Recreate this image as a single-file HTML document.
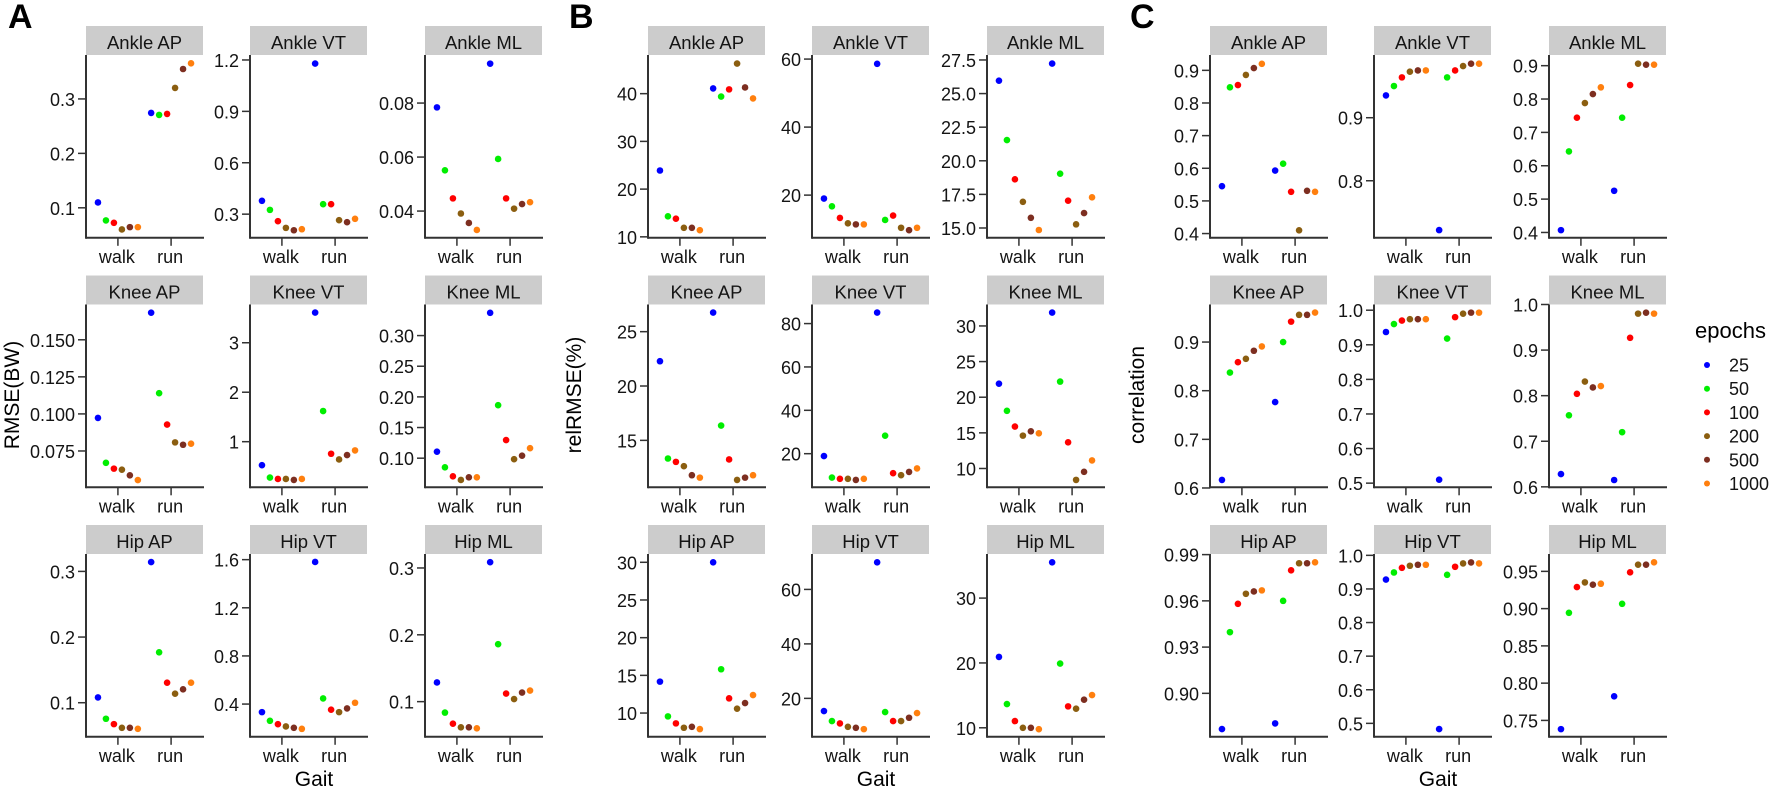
<!DOCTYPE html>
<html lang="en">
<head>
<meta charset="utf-8">
<title>RMSE, relRMSE and correlation by gait and epochs</title>
<style>
  html, body { margin: 0; padding: 0; background: #fff; }
  svg { display: block; font-family: "Liberation Sans", Arial, sans-serif; }
  .tick-text { font-size: 18px; fill: #141414; }
  .strip-text { font-size: 18.5px; fill: #141414; text-anchor: middle; }
  .title-text { font-size: 21px; fill: #000; text-anchor: middle; }
  .tag-text { font-size: 34px; font-weight: bold; fill: #000; }
</style>
</head>
<body>
<svg id="chart" xmlns="http://www.w3.org/2000/svg" width="1772" height="790" viewBox="0 0 1772 790">
  <rect x="0" y="0" width="1772" height="790" fill="#ffffff"/>
  <text class="tag-text" x="8" y="28">A</text>
  <text class="tag-text" x="569" y="28">B</text>
  <text class="tag-text" x="1130" y="28">C</text>
  <text class="title-text" transform="translate(19,395) rotate(-90)">RMSE(BW)</text>
  <text class="title-text" transform="translate(581,395) rotate(-90)">relRMSE(%)</text>
  <text class="title-text" transform="translate(1144,395) rotate(-90)">correlation</text>
  <text class="title-text" x="314" y="786">Gait</text>
  <text class="title-text" x="876" y="786">Gait</text>
  <text class="title-text" x="1438" y="786">Gait</text>
  <text x="1695" y="338" font-size="22" fill="#000">epochs</text>
  <g id="panels"></g>
  <g id="legend"></g>
</svg>
<script>
// Categories and series
const gaitCategories = ["walk", "run"];
const epochLevels = ["25", "50", "100", "200", "500", "1000"];
const epochColors = ["#0000ff", "#00ee00", "#ff0000", "#8b5e10", "#7d2e20", "#ff7f0e"];

// Figure A: RMSE(BW)
const aAnkleApWalk = [0.1098, 0.0768, 0.0725, 0.0602, 0.0645, 0.0645];
const aAnkleApRun = [0.2743, 0.2706, 0.2725, 0.3202, 0.355, 0.3654];
const aAnkleApDomain = [0.0449, 0.3807];
const aAnkleApTicks = ["0.1", "0.2", "0.3"];

const aAnkleVtWalk = [0.378, 0.325, 0.259, 0.220, 0.206, 0.212];
const aAnkleVtRun = [1.179, 0.358, 0.358, 0.265, 0.253, 0.273];
const aAnkleVtDomain = [0.162, 1.229];
const aAnkleVtTicks = ["0.3", "0.6", "0.9", "1.2"];

const aAnkleMlWalk = [0.0784, 0.0551, 0.0447, 0.0391, 0.0356, 0.0330];
const aAnkleMlRun = [0.0946, 0.0593, 0.0447, 0.0409, 0.0426, 0.0433];
const aAnkleMlDomain = [0.0301, 0.0978];
const aAnkleMlTicks = ["0.04", "0.06", "0.08"];

const aKneeApWalk = [0.0973, 0.0670, 0.0631, 0.0624, 0.0586, 0.0554];
const aKneeApRun = [0.1683, 0.1140, 0.0928, 0.0808, 0.0792, 0.0799];
const aKneeApDomain = [0.0505, 0.1738];
const aKneeApTicks = ["0.075", "0.100", "0.125", "0.150"];

const aKneeVtWalk = [0.525, 0.275, 0.247, 0.247, 0.227, 0.247];
const aKneeVtRun = [3.61, 1.62, 0.756, 0.641, 0.729, 0.824];
const aKneeVtDomain = [0.078, 3.773];
const aKneeVtTicks = ["1", "2", "3"];

const aKneeMlWalk = [0.1106, 0.0851, 0.0704, 0.0645, 0.0688, 0.0688];
const aKneeMlRun = [0.3371, 0.1864, 0.1296, 0.0984, 0.1041, 0.1163];
const aKneeMlDomain = [0.0525, 0.3507];
const aKneeMlTicks = ["0.10", "0.15", "0.20", "0.25", "0.30"];

const aHipApWalk = [0.1081, 0.0756, 0.0674, 0.0618, 0.0618, 0.0603];
const aHipApRun = [0.3142, 0.1768, 0.1305, 0.1137, 0.1204, 0.1305];
const aHipApDomain = [0.0481, 0.3265];
const aHipApTicks = ["0.1", "0.2", "0.3"];

const aHipVtWalk = [0.333, 0.261, 0.233, 0.214, 0.203, 0.194];
const aHipVtRun = [1.581, 0.447, 0.353, 0.333, 0.364, 0.411];
const aHipVtDomain = [0.128, 1.647];
const aHipVtTicks = ["0.4", "0.8", "1.2", "1.6"];

const aHipMlWalk = [0.1287, 0.0836, 0.067, 0.0616, 0.0616, 0.0601];
const aHipMlRun = [0.3087, 0.186, 0.1121, 0.1039, 0.1136, 0.1166];
const aHipMlDomain = [0.0474, 0.3209];
const aHipMlTicks = ["0.1", "0.2", "0.3"];

// Figure B: relRMSE(%)
const bAnkleApWalk = [23.9, 14.3, 13.8, 11.9, 11.9, 11.4];
const bAnkleApRun = [41.1, 39.4, 40.9, 46.3, 41.3, 39.0];
const bAnkleApDomain = [9.8, 48.1];
const bAnkleApTicks = ["10", "20", "30", "40"];

const bAnkleVtWalk = [19.0, 16.7, 13.3, 11.7, 11.4, 11.4];
const bAnkleVtRun = [58.6, 12.7, 14.0, 10.4, 9.7, 10.4];
const bAnkleVtDomain = [7.45, 61.2];
const bAnkleVtTicks = ["20", "40", "60"];

const bAnkleMlWalk = [25.96, 21.54, 18.62, 16.95, 15.76, 14.85];
const bAnkleMlRun = [27.23, 19.04, 17.03, 15.27, 16.11, 17.28];
const bAnkleMlDomain = [14.27, 27.87];
const bAnkleMlTicks = ["15.0", "17.5", "20.0", "22.5", "25.0", "27.5"];

const bKneeApWalk = [22.28, 13.33, 13.02, 12.62, 11.79, 11.57];
const bKneeApRun = [26.76, 16.36, 13.24, 11.36, 11.57, 11.79];
const bKneeApDomain = [10.68, 27.5];
const bKneeApTicks = ["15", "20", "25"];

const bKneeVtWalk = [18.9, 9.0, 8.4, 8.4, 7.9, 8.4];
const bKneeVtRun = [85.1, 28.3, 11.0, 10.1, 11.6, 13.2];
const bKneeVtDomain = [4.5, 88.8];
const bKneeVtTicks = ["20", "40", "60", "80"];

const bKneeMlWalk = [21.9, 18.09, 15.88, 14.61, 15.22, 14.94];
const bKneeMlRun = [31.88, 22.19, 13.67, 8.4, 9.53, 11.13];
const bKneeMlDomain = [7.36, 33.01];
const bKneeMlTicks = ["10", "15", "20", "25", "30"];

const bHipApWalk = [14.17, 9.56, 8.63, 8.05, 8.18, 7.87];
const bHipApRun = [30.0, 15.81, 11.95, 10.58, 11.33, 12.39];
const bHipApDomain = [6.85, 31.1];
const bHipApTicks = ["10", "15", "20", "25", "30"];

const bHipVtWalk = [15.34, 11.66, 10.8, 9.57, 9.2, 8.71];
const bHipVtRun = [69.94, 14.97, 11.66, 11.66, 12.88, 14.6];
const bHipVtDomain = [5.89, 73.0];
const bHipVtTicks = ["20", "40", "60"];

const bHipMlWalk = [20.93, 13.66, 11.03, 10.0, 10.0, 9.79];
const bHipMlRun = [35.52, 19.9, 13.3, 12.94, 14.33, 15.05];
const bHipMlDomain = [8.61, 36.8];
const bHipMlTicks = ["10", "20", "30"];

// Figure C: correlation
const cAnkleApWalk = [0.545, 0.848, 0.855, 0.886, 0.907, 0.920];
const cAnkleApRun = [0.593, 0.614, 0.528, 0.410, 0.531, 0.528];
const cAnkleApDomain = [0.387, 0.947];
const cAnkleApTicks = ["0.4", "0.5", "0.6", "0.7", "0.8", "0.9"];

const cAnkleVtWalk = [0.9354, 0.9503, 0.964, 0.973, 0.975, 0.975];
const cAnkleVtRun = [0.7217, 0.964, 0.975, 0.982, 0.9857, 0.9857];
const cAnkleVtDomain = [0.7095, 0.9995];
const cAnkleVtTicks = ["0.8", "0.9"];

const cAnkleMlWalk = [0.407, 0.643, 0.744, 0.788, 0.815, 0.835];
const cAnkleMlRun = [0.525, 0.744, 0.842, 0.906, 0.903, 0.903];
const cAnkleMlDomain = [0.384, 0.932];
const cAnkleMlTicks = ["0.4", "0.5", "0.6", "0.7", "0.8", "0.9"];

const cKneeApWalk = [0.6166, 0.8372, 0.8586, 0.8655, 0.8821, 0.891];
const cKneeApRun = [0.7766, 0.9, 0.942, 0.9559, 0.9559, 0.9607];
const cKneeApDomain = [0.6014, 0.9772];
const cKneeApTicks = ["0.6", "0.7", "0.8", "0.9"];

const cKneeVtWalk = [0.937, 0.960, 0.970, 0.974, 0.974, 0.974];
const cKneeVtRun = [0.510, 0.918, 0.980, 0.990, 0.993, 0.993];
const cKneeVtDomain = [0.488, 1.0165];
const cKneeVtTicks = ["0.5", "0.6", "0.7", "0.8", "0.9", "1.0"];

const cKneeMlWalk = [0.628, 0.757, 0.804, 0.831, 0.818, 0.821];
const cKneeMlRun = [0.615, 0.720, 0.927, 0.980, 0.982, 0.980];
const cKneeMlDomain = [0.599, 1.0];
const cKneeMlTicks = ["0.6", "0.7", "0.8", "0.9", "1.0"];

const cHipApWalk = [0.8768, 0.9397, 0.9581, 0.9646, 0.9661, 0.9668];
const cHipApRun = [0.8805, 0.96, 0.9798, 0.9844, 0.9844, 0.985];
const cHipApDomain = [0.8718, 0.9904];
const cHipApTicks = ["0.90", "0.93", "0.96", "0.99"];

const cHipVtWalk = [0.928, 0.949, 0.963, 0.969, 0.972, 0.972];
const cHipVtRun = [0.483, 0.942, 0.966, 0.976, 0.979, 0.976];
const cHipVtDomain = [0.460, 1.004];
const cHipVtTicks = ["0.5", "0.6", "0.7", "0.8", "0.9", "1.0"];

const cHipMlWalk = [0.7383, 0.8944, 0.9289, 0.9352, 0.9321, 0.9334];
const cHipMlRun = [0.7823, 0.9065, 0.9487, 0.959, 0.959, 0.9621];
const cHipMlDomain = [0.728, 0.9733];
const cHipMlTicks = ["0.75", "0.80", "0.85", "0.90", "0.95"];

const panelTitles = ["Ankle AP", "Ankle VT", "Ankle ML", "Knee AP", "Knee VT", "Knee ML", "Hip AP", "Hip VT", "Hip ML"];

const figureA = [
  [aAnkleApWalk, aAnkleApRun, aAnkleApDomain, aAnkleApTicks],
  [aAnkleVtWalk, aAnkleVtRun, aAnkleVtDomain, aAnkleVtTicks],
  [aAnkleMlWalk, aAnkleMlRun, aAnkleMlDomain, aAnkleMlTicks],
  [aKneeApWalk, aKneeApRun, aKneeApDomain, aKneeApTicks],
  [aKneeVtWalk, aKneeVtRun, aKneeVtDomain, aKneeVtTicks],
  [aKneeMlWalk, aKneeMlRun, aKneeMlDomain, aKneeMlTicks],
  [aHipApWalk, aHipApRun, aHipApDomain, aHipApTicks],
  [aHipVtWalk, aHipVtRun, aHipVtDomain, aHipVtTicks],
  [aHipMlWalk, aHipMlRun, aHipMlDomain, aHipMlTicks]
];
const figureB = [
  [bAnkleApWalk, bAnkleApRun, bAnkleApDomain, bAnkleApTicks],
  [bAnkleVtWalk, bAnkleVtRun, bAnkleVtDomain, bAnkleVtTicks],
  [bAnkleMlWalk, bAnkleMlRun, bAnkleMlDomain, bAnkleMlTicks],
  [bKneeApWalk, bKneeApRun, bKneeApDomain, bKneeApTicks],
  [bKneeVtWalk, bKneeVtRun, bKneeVtDomain, bKneeVtTicks],
  [bKneeMlWalk, bKneeMlRun, bKneeMlDomain, bKneeMlTicks],
  [bHipApWalk, bHipApRun, bHipApDomain, bHipApTicks],
  [bHipVtWalk, bHipVtRun, bHipVtDomain, bHipVtTicks],
  [bHipMlWalk, bHipMlRun, bHipMlDomain, bHipMlTicks]
];
const figureC = [
  [cAnkleApWalk, cAnkleApRun, cAnkleApDomain, cAnkleApTicks],
  [cAnkleVtWalk, cAnkleVtRun, cAnkleVtDomain, cAnkleVtTicks],
  [cAnkleMlWalk, cAnkleMlRun, cAnkleMlDomain, cAnkleMlTicks],
  [cKneeApWalk, cKneeApRun, cKneeApDomain, cKneeApTicks],
  [cKneeVtWalk, cKneeVtRun, cKneeVtDomain, cKneeVtTicks],
  [cKneeMlWalk, cKneeMlRun, cKneeMlDomain, cKneeMlTicks],
  [cHipApWalk, cHipApRun, cHipApDomain, cHipApTicks],
  [cHipVtWalk, cHipVtRun, cHipVtDomain, cHipVtTicks],
  [cHipMlWalk, cHipMlRun, cHipMlDomain, cHipMlTicks]
];
const figures = [figureA, figureB, figureC];

// Layout
const NS = "http://www.w3.org/2000/svg";
const figureLeft = [86, 648, 1210];
const columnOffset = [0, 164, 339];
const rowTop = [55, 304.5, 554];
const panelWidth = 117;
const panelHeight = 182.8;
const stripHeight = 29;
const axisColor = "#333333";

function make(tag, attrs, parent) {
  const el = document.createElementNS(NS, tag);
  for (const k in attrs) el.setAttribute(k, attrs[k]);
  parent.appendChild(el);
  return el;
}

// ggplot-style discrete axis: 0.6 units padding, 0.15 unit dodge between epochs
function xScale(left, catIndex, dodgeIndex) {
  const unit = panelWidth / 2.2;
  const centre = left + (0.6 + catIndex) * unit;
  return dodgeIndex === null ? centre : centre + (dodgeIndex - 2.5) * 0.15 * unit;
}
function yScale(top, domain, value) {
  return top + panelHeight * (domain[1] - value) / (domain[1] - domain[0]);
}

const panelsRoot = document.getElementById("panels");

figures.forEach(function (figure, f) {
  figure.forEach(function (spec, p) {
    const left = figureLeft[f] + columnOffset[p % 3];
    const top = rowTop[Math.floor(p / 3)];
    const bottom = top + panelHeight;
    const series = [spec[0], spec[1]];
    const domain = spec[2];
    const ticks = spec[3];
    const slug = "abc"[f] + "-" + panelTitles[p].toLowerCase().replace(" ", "-");

    const g = make("g", {}, panelsRoot);
    
    

    const strip = make("rect", { x: left, y: top - stripHeight, width: panelWidth, height: stripHeight, fill: "#cccccc" }, g);
    
    

    const stripLabel = make("text", { x: left + panelWidth / 2, y: top - 6, "class": "strip-text" }, g);
    
    
    stripLabel.textContent = panelTitles[p];

    ticks.forEach(function (label) {
      const y = yScale(top, domain, parseFloat(label));
      const tick = make("line", { x1: left - 8, x2: left, y1: y, y2: y, stroke: axisColor, "stroke-width": 1.5 }, g);
      
      
      const text = make("text", { x: left - 11, y: y + 7, "text-anchor": "end", "class": "tick-text" }, g);
      
      
      text.textContent = label;
    });

    gaitCategories.forEach(function (cat, c) {
      const x = xScale(left, c, null);
      const tick = make("line", { x1: x, x2: x, y1: bottom, y2: bottom + 8, stroke: axisColor, "stroke-width": 1.5 }, g);
      
      
      const text = make("text", { x: x - 1, y: bottom + 25, "text-anchor": "middle", "class": "tick-text" }, g);
      
      
      text.textContent = cat;
    });

    const yAxis = make("line", { x1: left, x2: left, y1: top, y2: bottom + 1, stroke: axisColor, "stroke-width": 2 }, g);
    
    
    const xAxis = make("line", { x1: left, x2: left + panelWidth + 1, y1: bottom, y2: bottom, stroke: axisColor, "stroke-width": 2 }, g);
    
    

    series.forEach(function (values, c) {
      values.forEach(function (value, e) {
        const dot = make("circle", { cx: xScale(left, c, e), cy: yScale(top, domain, value), r: 3.3, fill: epochColors[e] }, g);
        
        
      });
    });
  });
});

const legendRoot = document.getElementById("legend");
epochLevels.forEach(function (level, i) {
  const y = 365 + i * 23.7;
  const key = make("circle", { cx: 1707, cy: y, r: 3, fill: epochColors[i] }, legendRoot);
  
  
  const text = make("text", { x: 1729, y: y + 6.5, "class": "tick-text" }, legendRoot);
  
  
  text.textContent = level;
});
</script>
</body>
</html>
